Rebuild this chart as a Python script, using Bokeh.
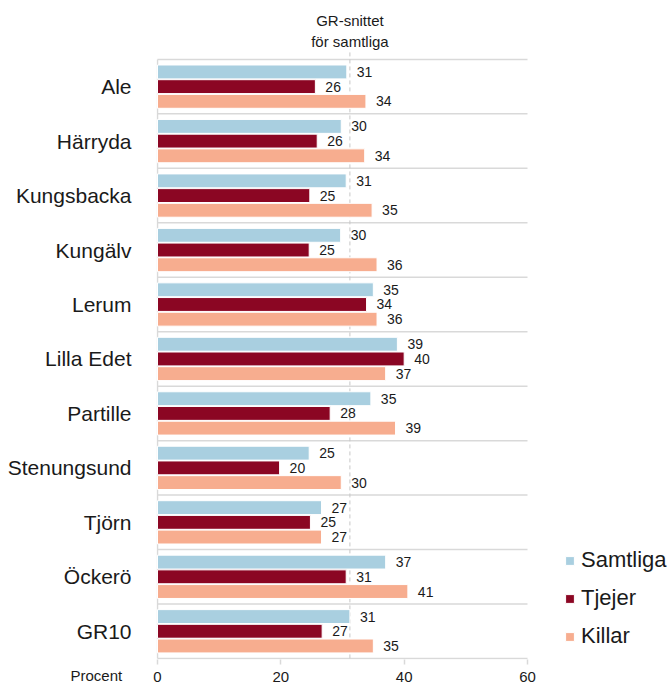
from bokeh.plotting import figure
from bokeh.models import (ColumnDataSource, Range1d, FixedTicker, Legend,
                          LegendItem, Label, Title)
from bokeh.core.properties import value
from bokeh.embed import file_html
from bokeh.resources import INLINE

categories = ["Ale", "Härryda", "Kungsbacka", "Kungälv", "Lerum", "Lilla Edet",
              "Partille", "Stenungsund", "Tjörn", "Öckerö", "GR10"]
samtliga = [30.7, 29.8, 30.6, 29.7, 35.0, 38.9, 34.6, 24.6, 26.6, 37.0, 31.2]
tjejer = [25.6, 25.9, 24.7, 24.6, 33.9, 40.0, 28.0, 19.8, 24.8, 30.6, 26.7]
killar = [33.8, 33.6, 34.8, 35.6, 35.6, 37.0, 38.6, 29.8, 26.6, 40.6, 35.0]
series_names = ["Samtliga", "Tjejer", "Killar"]
colors = ["#a9cfe0", "#8b0623", "#f7ad8f"]
x_ticks = [0, 20, 40, 60]
mean_label = ["GR-snittet", "för samtliga"]
unit_label = "Procent"

FONT = "Liberation Sans"
TXT = "#1a1a1a"
GRID = "#d9d9d9"

n = len(categories)
idx = list(range(n))
X_MAX = 60

# layout (pixels)
W, H = 671, 684
LEFT, BOTTOM = 156, 24
AXIS_W = 370                      # pixels from 0 to X_MAX
TOP_PAD = 59                      # pixels above first separator
frame_w = W - LEFT
frame_h = H - BOTTOM
ppx = AXIS_W / X_MAX
ppy = (frame_h - TOP_PAD - 1) / n
x0 = -1.0 / ppx
x_end = x0 + frame_w / ppx
y_bottom = n - 0.5 + 1.0 / ppy
y_top = -0.5 - TOP_PAD / ppy

p = figure(width=W, height=H, output_backend="svg", toolbar_location=None,
           x_range=Range1d(x0, x_end), y_range=Range1d(y_bottom, y_top),
           min_border_left=LEFT, min_border_right=0, min_border_top=0,
           min_border_bottom=BOTTOM)
p.outline_line_color = None
p.background_fill_color = "white"
p.xgrid.visible = False
p.ygrid.visible = False

# y axis: category names
p.yaxis.ticker = FixedTicker(ticks=idx)
p.yaxis.major_label_overrides = {i: c for i, c in enumerate(categories)}
p.yaxis.axis_line_color = None
p.yaxis.major_tick_line_color = None
p.yaxis.minor_tick_line_color = None
p.yaxis.major_label_standoff = 19
p.yaxis.major_label_text_font = FONT
p.yaxis.major_label_text_font_size = "21px"
p.yaxis.major_label_text_color = TXT

# x axis
p.xaxis.ticker = FixedTicker(ticks=x_ticks)
p.xaxis.axis_line_color = None
p.xaxis.major_tick_line_color = GRID
p.xaxis.major_tick_line_width = 1.5
p.xaxis.major_tick_in = 0
p.xaxis.major_tick_out = 5
p.xaxis.minor_tick_line_color = None
p.xaxis.major_label_standoff = 7
p.xaxis.major_label_text_font = FONT
p.xaxis.major_label_text_font_size = "15px"
p.xaxis.major_label_text_color = TXT

# separators between categories and left line
bounds = [i - 0.5 for i in range(n + 1)]
p.segment(x0=[0] * len(bounds), y0=bounds, x1=[X_MAX] * len(bounds), y1=bounds,
          line_color=GRID, line_width=1.5)
p.segment(x0=[0], y0=[-0.5], x1=[0], y1=[n - 0.5], line_color=GRID, line_width=1.5)

# dashed mean line (GR10 Samtliga)
gr_mean = samtliga[categories.index("GR10")]
p.segment(x0=[gr_mean], y0=[-0.5 - 7 / ppy], x1=[gr_mean], y1=[n - 0.5],
          line_color="#c8c8c8", line_dash="4 3", line_width=1)

offsets = [-0.27, 0.0, 0.27]
renderers = []
for name, vals, col, off in zip(series_names, [samtliga, tjejer, killar], colors, offsets):
    src = ColumnDataSource(dict(y=[i + off for i in idx], v=vals,
                                lab=[str(int(round(v))) for v in vals]))
    r = p.hbar(y="y", right="v", left=0, height=0.255, source=src,
               fill_color=col, line_color="white", line_width=1)
    renderers.append((name, r))
    p.text(x="v", y="y", text="lab", source=src, x_offset=10,
           text_align="left", text_baseline="middle",
           text_font=value(FONT), text_font_size="14px", text_color=TXT)

# annotation above the mean line
for k, t in enumerate(mean_label):
    p.add_layout(Label(x=gr_mean, y=-0.5 - (39 - 21 * k) / ppy, text=t,
                       text_align="center", text_baseline="middle",
                       text_font=FONT, text_font_size="15px", text_color=TXT))

# unit label at the tick-label row
p.add_layout(Title(text=unit_label, align="left", vertical_align="top",
                   offset=-86, standoff=-36,
                   text_font=FONT, text_font_size="15px",
                   text_font_style="normal", text_color=TXT), "below")

legend = Legend(items=[LegendItem(label=nm, renderers=[r]) for nm, r in renderers],
                location=(408, 10), orientation="vertical",
                glyph_width=11, glyph_height=11, label_standoff=6,
                label_text_font=FONT, label_text_font_size="22px",
                label_text_color=TXT, label_height=24, spacing=12,
                padding=0, margin=0, border_line_color=None,
                background_fill_alpha=0)
p.add_layout(legend)

open("out.html", "w").write(file_html(p, INLINE))
